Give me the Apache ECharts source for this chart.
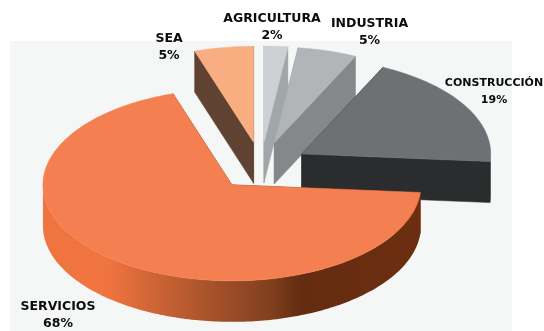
<!DOCTYPE html>
<html>
<head>
<meta charset="utf-8">
<style>html,body{margin:0;padding:0;background:#fff}#c{width:544px;height:331px}</style>
<script src="https://cdn.jsdelivr.net/npm/echarts@6/dist/echarts.min.js"></script>
</head>
<body>
<div id="c"></div>
<script>
var categories = ['AGRICULTURA', 'INDUSTRIA', 'CONSTRUCCIÓN', 'SERVICIOS', 'SEA'];
var shares = [2, 5, 19, 68, 5];

var topColors = ['#ccd0d2', '#b2b5b7', '#6f7074', '#f47f50', '#f9ae82'];
var sideColors = ['#a1a6a8', '#85878a', '#2a2c2e', '#6d2e10', '#5f4232'];
var labelAnchors = {
  'AGRICULTURA': [272, 27.5], 'INDUSTRIA': [369.5, 32.5], 'CONSTRUCCIÓN': [494, 92],
  'SERVICIOS': [58, 315.5], 'SEA': [169, 47]
};
var labelSizes = { 'AGRICULTURA': 12.5, 'INDUSTRIA': 12.5, 'CONSTRUCCIÓN': 11, 'SERVICIOS': 12.5, 'SEA': 12.5 };
var layout = { cx: 261, cy: 166, rx: 189, ry: 96, ex: 47, ey: 24, depth: 41, startAngle: 270 };
var rimGradient = {
  type: 'linear', x: 0, y: 0, x2: 1, y2: 0,
  colorStops: [
    { offset: 0, color: '#f07440' }, { offset: 0.17, color: '#f07440' },
    { offset: 0.435, color: '#a9532b' }, { offset: 0.61, color: '#7f3f1e' },
    { offset: 0.68, color: '#642c10' }, { offset: 1, color: '#6d2e10' }
  ]
};

var total = shares.reduce(function (a, b) { return a + b; }, 0);
function rad(d) { return d * Math.PI / 180; }

function renderSlice(params, api) {
  var i = params.dataIndex, L = layout, before = 0;
  for (var k = 0; k < i; k++) before += shares[k];
  var a0 = L.startAngle + before / total * 360;
  var a1 = a0 + api.value(0) / total * 360;
  var mid = rad((a0 + a1) / 2);
  var ax = L.cx + L.ex * Math.cos(mid), ay = L.cy + L.ey * Math.sin(mid);
  var D = L.depth;
  function pt(a) { return [ax + L.rx * Math.cos(rad(a)), ay + L.ry * Math.sin(rad(a))]; }
  var arc = [], rims = [], run = [], n = Math.ceil(a1 - a0), s, a, p;
  for (s = 0; s <= n; s++) {
    a = a0 + (a1 - a0) * s / n; p = pt(a); arc.push(p);
    if (Math.sin(rad(a)) > -0.001) run.push(p);
    else if (run.length) { rims.push(run); run = []; }
  }
  if (run.length) rims.push(run);
  var side = i === 3 ? rimGradient : sideColors[i];
  var kids = [];
  function quad(p1) {
    kids.push({ type: 'polygon', shape: { points: [[ax, ay], p1, [p1[0], p1[1] + D], [ax, ay + D]] },
      style: { fill: sideColors[i], stroke: sideColors[i], lineWidth: 0.5 } });
  }
  quad(arc[0]); quad(arc[arc.length - 1]);
  rims.forEach(function (r) {
    var low = r.map(function (q) { return [q[0], q[1] + D]; }).reverse();
    kids.push({ type: 'polygon', shape: { points: r.concat(low) }, style: { fill: side } });
  });
  kids.push({ type: 'polygon', shape: { points: [[ax, ay]].concat(arc) },
    style: { fill: topColors[i], stroke: topColors[i], lineWidth: 0.5 } });
  var lab = labelAnchors[categories[i]];
  kids.push({ type: 'text', z2: 50, style: {
    text: categories[i] + '\n' + api.value(0) + '%', x: lab[0], y: lab[1],
    textAlign: 'center', textVerticalAlign: 'middle', lineHeight: 17,
    font: 'bold ' + labelSizes[categories[i]] + 'px "DejaVu Sans"', fill: '#0c0c0c' } });
  return { type: 'group', children: kids };
}

var chart = echarts.init(document.getElementById('c'), null, { renderer: 'canvas' });
chart.setOption({
  animation: false,
  backgroundColor: '#ffffff',
  graphic: [{ type: 'rect', z: -1, silent: true, shape: { x: 10, y: 41, width: 502, height: 290 }, style: { fill: '#f5f7f7' } }],
  series: [{
    type: 'custom', coordinateSystem: 'none', silent: true,
    renderItem: renderSlice,
    data: shares.map(function (v, i) { return { name: categories[i], value: [v] }; })
  }]
});
</script>
</body>
</html>
